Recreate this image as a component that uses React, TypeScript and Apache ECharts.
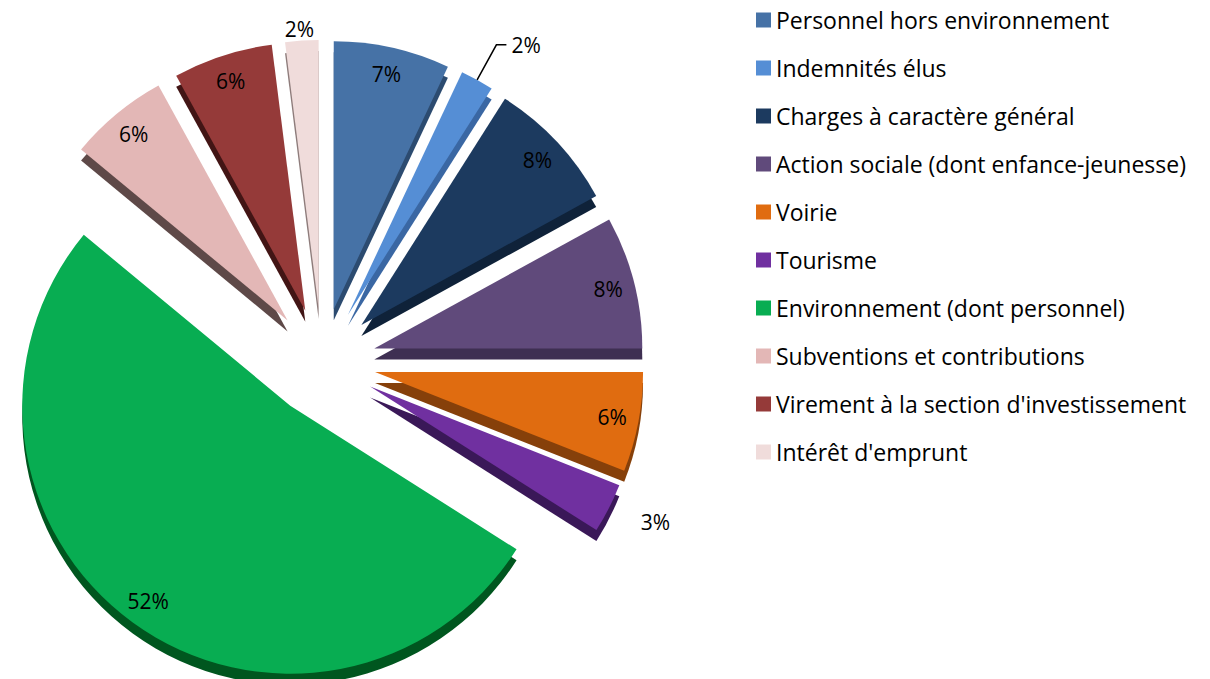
import React, { useEffect, useRef } from "react";
import * as echarts from "echarts";

const categories = [
  "Personnel hors environnement",
  "Indemnités élus",
  "Charges à caractère général",
  "Action sociale (dont enfance-jeunesse)",
  "Voirie",
  "Tourisme",
  "Environnement (dont personnel)",
  "Subventions et contributions",
  "Virement à la section d'investissement",
  "Intérêt d'emprunt",
];
const values = [7, 2, 8, 8, 6, 3, 52, 6, 6, 2];
const topColors = [
  "#4672A6", "#558ED5", "#1C3A5F", "#604A7B", "#E06C10",
  "#7030A0", "#08AD52", "#E3B7B6", "#953A39", "#F0DCDB",
];
const sideColors = [
  "#2C4B70", "#3A67A3", "#0F2239", "#3E2F52", "#86400A",
  "#3A1858", "#00561F", "#5E4948", "#421515", "#8E7C7B",
];

const FONT = "'Open Sans', 'Noto Sans', sans-serif";
const CX = 322;
const CY = 362;
const R = 268;
const OFFSET = 54;
const DEPTH = 11;

export default function App() {
  const ref = useRef<HTMLDivElement>(null);
  useEffect(() => {
    if (!ref.current) return;
    const chart = echarts.init(ref.current, null, { renderer: "svg" });

    const topData = categories.map((name, i) => ({
      name,
      value: values[i],
      selected: true,
      itemStyle: { color: topColors[i] },
    }));
    const sideData = categories.map((name, i) => ({
      name,
      value: values[i],
      selected: true,
      itemStyle: { color: sideColors[i] },
    }));
    const outsideCfg: Record<string, any> = {
      "Indemnités élus": {
        label: { position: "outside" },
        labelLine: { show: true, length: 40, length2: 10, lineStyle: { color: "#000", width: 1.5 } },
      },
      "Intérêt d'emprunt": {
        label: { position: "outside" },
        labelLine: { show: false, length: 12, length2: 0 },
      },
      Tourisme: {
        label: { position: "outside" },
        labelLine: { show: false, length: 30, length2: 0 },
      },
    };
    const labelData = categories.map((name, i) => ({
      name,
      value: values[i],
      selected: true,
      itemStyle: { color: "rgba(0,0,0,0)" },
      ...(outsideCfg[name] || {}),
    }));

    chart.setOption({
      animation: false,
      legend: {
        orient: "vertical",
        left: 751,
        top: 3,
        itemWidth: 15,
        itemHeight: 15,
        itemGap: 24,
        icon: "rect",
        selectedMode: false,
        data: categories.map((name, i) => ({ name, itemStyle: { color: topColors[i] } })),
        textStyle: { fontSize: 23, lineHeight: 24, color: "#000", fontFamily: FONT },
      },
      series: [
        {
          type: "pie",
          name: "top",
          z: 3,
          center: [CX, CY],
          radius: [0, R],
          startAngle: 90,
          selectedMode: "multiple",
          selectedOffset: OFFSET,
          percentPrecision: 0,
          label: { show: false },
          labelLine: { show: false },
          emphasis: { disabled: true },
          data: topData,
        },
        {
          type: "pie",
          name: "side",
          z: 2,
          silent: true,
          center: [CX, CY + DEPTH],
          radius: [0, R],
          startAngle: 90,
          selectedMode: "multiple",
          selectedOffset: OFFSET,
          label: { show: false },
          labelLine: { show: false },
          emphasis: { disabled: true },
          data: sideData,
        },
        {
          type: "pie",
          name: "labels",
          z: 4,
          silent: true,
          center: [CX, CY],
          radius: [R * 0.78, R],
          startAngle: 90,
          selectedMode: "multiple",
          selectedOffset: OFFSET,
          percentPrecision: 0,
          emphasis: { disabled: true },
          label: {
            show: true,
            position: "inside",
            formatter: "{d}%",
            fontSize: 21,
            color: "#000",
            fontFamily: FONT,
          },
          labelLine: { show: false },
          labelLayout: (p: any) => (p.dataIndex === 9 ? { dx: 18 } : {}),
          data: labelData,
        },
      ],
    });
    return () => chart.dispose();
  }, []);
  return (
    <div
      ref={ref}
      style={{ position: "absolute", left: 0, top: 0, width: 1210, height: 679, background: "#fff" }}
    />
  );
}
